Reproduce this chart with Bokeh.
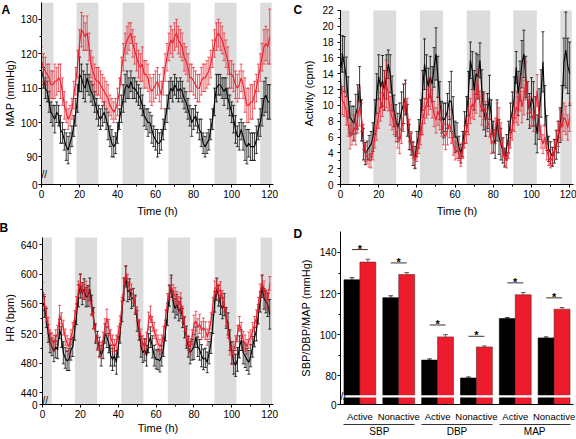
from bokeh.plotting import figure
from bokeh.layouts import column, row
from bokeh.models import Range1d, FixedTicker, LinearAxis
from bokeh.core.properties import value
from bokeh.embed import file_html
from bokeh.resources import INLINE

FONT = "Liberation Sans"
RED = "#e8202d"
BAND = "#dcdcdc"

HOURS = list(range(121))

# ---------------- Panel A: MAP (mmHg) ----------------
A_black = [115,113,110,109,106,103,102,101,103,102,
           98,97,95,93,92,94,96,99,103,107,
           114,113,111,110,113,111,109,108,106,104,
           102,101,102,103,101,99,96,94,93,94,
           97,101,104,107,110,111,110,112,110,110,
           109,108,107,105,102,101,100,100,98,96,
           95,94,94,95,98,101,104,108,110,109,
           111,110,109,110,109,107,106,104,102,100,
           101,102,100,98,97,94,93,94,95,98,
           101,106,110,111,111,110,109,110,107,105,
           103,101,98,96,96,98,96,94,93,94,
           93,93,93,95,98,100,103,107,108,106,
           106]
A_black_err = [4,3,3,3,3,3,3,4,3,3,
               4,3,3,4,4,3,3,3,4,4,
               5,4,4,4,4,3,3,3,3,3,
               3,3,3,3,3,4,3,4,3,3,
               3,3,4,4,4,4,3,3,3,3,
               3,3,3,3,3,3,4,3,4,3,
               3,4,3,3,3,3,4,4,3,3,
               3,3,3,3,3,3,3,3,3,4,
               3,3,3,3,4,3,3,3,3,3,
               3,4,4,3,3,3,4,3,3,3,
               3,4,4,3,4,3,4,5,5,4,
               4,4,4,4,3,4,4,5,5,5,
               5]
A_red = [118,116,115,114,113,111,111,112,112,113,
         112,109,105,103,101,102,104,108,112,117,
         123,127,126,125,126,122,117,115,113,112,
         112,111,110,109,108,107,105,104,103,104,
         106,109,115,119,122,124,125,126,123,121,
         119,117,116,117,114,114,113,110,109,110,
         111,112,110,108,112,116,119,122,124,123,
         125,126,124,123,122,119,118,116,113,113,
         112,111,110,110,112,113,113,114,115,117,
         120,123,125,126,125,124,122,120,118,114,
         114,113,111,110,111,113,111,108,105,105,
         106,106,108,110,113,116,119,122,123,122,
         125]
A_red_err = [4,4,4,3,4,4,4,5,4,4,
             5,4,4,3,3,3,3,4,4,4,
             4,5,5,4,5,4,4,4,4,4,
             4,4,4,4,4,4,3,3,3,3,
             4,4,4,4,4,4,4,3,4,4,
             4,4,4,5,4,4,4,4,4,4,
             4,4,4,4,4,4,4,4,4,4,
             4,4,4,4,4,4,4,4,4,4,
             4,4,4,4,4,4,4,4,4,4,
             4,4,4,4,4,4,4,4,4,4,
             4,4,4,4,4,4,4,5,5,5,
             5,5,4,4,4,4,4,5,5,5,
             8]
A_band_start = [0, 18.4, 42.6, 66.8, 91.0, 115.0]
A_band_end = [6.3, 29.9, 54.1, 78.4, 102.6, 121.0]

# ---------------- Panel B: HR (bpm) ----------------
B_black = [563,556,541,520,507,502,496,502,498,526,
           515,494,487,483,485,498,502,524,546,571,
           584,574,580,569,571,580,559,541,520,511,
           502,490,498,520,515,507,490,485,490,481,
           502,520,550,580,597,576,580,567,569,559,
           537,524,502,494,498,490,507,515,502,490,
           485,485,483,490,502,524,546,571,584,563,
           554,559,550,554,541,528,515,502,494,498,
           502,515,502,498,490,485,487,481,494,507,
           533,563,580,571,559,554,559,541,533,511,
           494,481,477,485,502,511,494,490,485,481,
           490,502,515,524,546,563,584,567,563,559,
           546]
B_black_err = [12,14,13,12,13,12,14,15,12,13,
               14,15,14,13,15,14,13,13,14,15,
               16,15,14,13,14,15,13,14,13,12,
               13,14,12,13,14,13,14,15,14,16,
               14,13,14,15,14,13,14,13,12,13,
               14,13,14,13,15,14,13,14,15,14,
               13,14,15,14,13,14,15,14,15,14,
               13,14,13,14,13,14,15,14,15,14,
               17,14,13,14,15,14,13,14,15,14,
               13,14,15,14,13,14,15,14,15,14,
               15,16,15,16,15,14,15,16,15,16,
               15,14,13,14,13,14,15,14,15,16,
               20]
B_red = [580,563,546,531,515,511,507,515,520,546,
         537,528,515,507,502,515,524,541,559,580,
         589,578,576,580,574,567,554,537,520,507,
         498,498,511,528,541,528,515,507,502,507,
         520,533,559,584,602,589,580,576,571,559,
         546,528,515,507,502,511,537,546,533,524,
         515,507,502,507,520,541,563,576,584,576,
         571,567,559,563,546,533,515,507,502,515,
         533,537,528,533,524,528,524,515,524,537,
         559,580,584,576,580,567,559,541,524,502,
         490,498,507,520,533,524,511,507,502,511,
         515,524,533,541,559,576,589,580,567,563,
         588]
B_red_err = [9,10,10,11,10,10,11,10,11,12,
             11,10,11,10,11,10,11,10,11,11,
             12,11,10,11,10,11,10,11,10,10,
             11,10,11,12,12,11,10,11,10,11,
             10,11,10,11,10,11,10,11,10,11,
             10,11,11,10,10,11,12,11,10,11,
             10,11,10,11,10,11,11,10,11,10,
             11,10,11,12,11,10,11,10,11,10,
             12,13,12,13,12,13,12,11,12,11,
             10,11,10,11,10,11,10,11,10,11,
             12,11,10,11,10,11,12,11,10,11,
             10,11,10,11,10,11,10,11,12,11,
             9]
B_band_start = [0, 17.1, 41.6, 66.2, 90.8, 115.2]
B_band_end = [4.9, 28.8, 53.3, 77.9, 102.4, 121.3]

# ---------------- Panel C: Activity (cpm) ----------------
C_black = [14.0,16.5,15.2,13.6,11.0,8.5,8.1,7.7,8.9,9.8,
           12.7,8.1,5.1,3.9,4.3,4.7,5.1,6.0,8.5,11.5,
           13.6,12.3,13.1,11.9,13.6,15.2,14.0,11.5,9.3,8.1,
           7.2,8.1,9.3,10.2,11.0,8.1,6.0,5.1,3.9,3.4,
           5.1,6.4,8.5,11.9,15.2,13.6,12.3,13.6,12.7,14.8,
           16.5,13.6,10.6,8.5,8.1,8.5,9.3,10.6,10.5,8.5,
           6.0,6.0,4.7,3.9,5.1,7.2,8.9,11.5,15.7,14.4,
           11.9,14.0,13.6,15.7,11.9,9.3,8.1,9.3,11.0,8.5,
           6.0,5.1,8.1,6.0,5.1,4.3,3.4,4.7,6.0,8.1,
           9.3,11.0,14.8,11.5,13.1,15.2,16.5,13.6,10.6,9.3,
           11.0,10.2,8.1,6.4,8.9,11.5,15.5,10.0,6.5,4.5,
           4.0,3.5,4.2,5.0,6.0,7.5,10.0,15.5,17.0,15.0,
           14.0]
C_black_err = [2.5,2.3,3.5,2.5,2.6,2.0,1.8,2.2,2.5,2.8,
               2.2,2.6,2.0,1.4,1.2,1.5,1.6,1.8,2.2,2.5,
               2.8,2.6,3.2,2.5,2.8,1.8,2.4,2.2,2.0,2.0,
               1.8,2.2,2.4,2.5,2.2,2.0,1.6,1.4,1.5,1.4,
               1.6,1.8,2.2,2.5,3.2,2.8,2.4,2.6,2.2,2.5,
               3.3,2.6,2.4,2.0,2.2,1.8,2.2,2.4,3.8,2.6,
               2.0,1.8,1.4,1.2,1.6,2.0,2.2,2.8,2.3,2.4,
               2.5,2.6,2.8,2.2,2.6,2.4,2.0,2.2,2.8,2.2,
               2.0,1.8,2.6,2.2,2.0,1.6,1.2,1.6,2.0,2.2,
               2.4,2.6,2.0,2.8,2.5,3.0,3.0,2.6,2.4,2.2,
               2.5,2.8,3.0,2.4,3.2,3.0,3.8,2.5,2.2,1.6,
               1.4,1.2,1.5,1.8,2.0,2.2,2.5,3.0,4.8,3.5,
               4.0]
C_red = [13.6,10.6,10.2,9.3,7.7,6.0,6.4,7.2,6.8,8.5,
         9.8,8.5,6.0,3.9,3.4,3.0,3.0,4.3,6.0,7.2,
         8.9,9.8,10.6,11.9,12.7,11.5,9.3,8.5,7.7,6.8,
         6.0,5.5,6.8,8.5,11.0,9.3,6.8,5.5,4.3,3.0,
         3.9,5.1,6.4,8.1,9.3,10.2,10.6,11.5,10.2,8.9,
         8.1,9.3,8.5,7.7,6.4,6.0,6.8,7.7,6.8,5.1,
         4.3,4.3,3.9,3.2,4.3,6.0,6.8,8.1,9.3,10.2,
         9.8,11.0,12.7,10.2,9.3,9.8,8.9,8.1,7.2,5.1,
         5.5,6.8,8.5,8.1,6.4,4.7,3.4,3.0,4.3,6.0,
         7.2,8.5,9.8,9.3,11.5,9.8,11.0,13.1,11.0,9.3,
         8.9,8.1,9.3,11.9,8.5,6.0,5.1,6.0,4.3,3.4,
         3.0,3.4,4.3,5.5,6.4,7.7,7.2,8.5,8.1,7.2,
         8.5]
C_red_err = [2.0,1.8,1.6,1.8,1.6,1.5,1.4,1.6,1.8,2.0,
             2.4,1.8,1.6,1.0,0.8,0.8,0.9,1.2,1.4,1.6,
             1.8,1.8,2.0,2.5,3.0,2.2,1.8,1.6,1.4,1.4,
             1.4,1.6,1.6,1.8,1.8,1.6,1.4,1.2,1.0,0.9,
             1.0,1.2,1.4,1.8,1.6,1.8,1.8,2.0,1.8,1.6,
             1.6,1.8,1.6,1.6,1.4,1.6,1.8,1.8,1.6,1.4,
             1.2,1.0,0.9,0.9,1.0,1.4,1.6,1.8,1.6,1.8,
             1.6,2.0,1.8,1.6,1.8,1.6,1.6,1.4,1.2,1.2,
             1.4,1.6,1.8,1.6,1.4,1.2,1.0,0.9,1.0,1.4,
             1.6,1.8,2.0,1.8,2.2,2.0,2.2,2.4,2.0,1.8,
             1.6,1.4,1.8,2.0,1.8,1.4,1.2,1.4,1.2,1.0,
             0.9,1.0,1.2,1.4,1.6,1.8,1.6,1.8,1.8,1.6,
             1.8]
C_band_start = [0, 17.2, 41.6, 66.1, 90.5, 115.1]
C_band_end = [4.7, 29.2, 53.7, 78.4, 102.8, 121.1]

# ---------------- Panel D: SBP/DBP/MAP (mmHg) ----------------
D_groups = ["SBP", "DBP", "MAP"]
D_phases = ["Active", "Nonactive"]
D_black = [126.7, 118.0, 87.6, 78.9, 107.8, 98.4]
D_black_err = [1.0, 0.9, 0.6, 0.5, 0.5, 0.5]
D_red = [135.3, 129.3, 98.9, 94.0, 119.4, 112.4]
D_red_err = [1.4, 0.9, 1.1, 0.5, 1.1, 0.8]

for arr in (A_black, A_black_err, A_red, A_red_err, B_black, B_black_err, B_red, B_red_err,
            C_black, C_black_err, C_red, C_red_err):
    assert len(arr) == 121, len(arr)

CAP = 0.8


def style_axis(ax, tick_font="10px", label_font="11px", standoff=2, label_standoff=2):
    ax.axis_line_width = 1
    ax.axis_line_color = "black"
    ax.major_tick_in = 0
    ax.major_tick_out = 3
    ax.minor_tick_in = 0
    ax.minor_tick_out = 2
    ax.major_tick_line_color = "black"
    ax.minor_tick_line_color = "black"
    ax.major_label_text_font = FONT
    ax.major_label_text_font_size = tick_font
    ax.major_label_text_color = "black"
    ax.major_label_standoff = standoff
    ax.axis_label_text_font = FONT
    ax.axis_label_text_font_size = label_font
    ax.axis_label_text_font_style = "normal"
    ax.axis_label_text_color = "black"
    ax.axis_label_standoff = label_standoff


def set_letter(p, letter, dx, drop):
    t = p.title
    t.text = letter
    t.align = "left"
    t.text_font = FONT
    t.text_font_style = "bold"
    t.text_font_size = "12px"
    t.text_color = "black"
    t.offset = dx
    try:
        t.standoff = -drop
    except Exception:
        t.standoff = 0


def ts_panel(width, height, borders, yr, ybounds, yticks, yminor, yover, ylabel, bstart, bend,
             blk, blk_e, red, red_e, break_y, ystand, xlab_stand):
    p = figure(width=width, height=height, x_range=Range1d(0, 122), y_range=Range1d(*yr),
               output_backend="svg", toolbar_location=None,
               min_border_left=borders[0], min_border_right=borders[1],
               min_border_top=borders[2], min_border_bottom=borders[3])
    p.outline_line_color = None
    p.grid.visible = False
    p.quad(left=bstart, right=bend, bottom=ybounds[0], top=ybounds[1], fill_color=BAND, line_color=None)
    for vals, errs, col, alpha in ((blk, blk_e, "black", 0.85), (red, red_e, RED, 0.8)):
        lo = [v - e for v, e in zip(vals, errs)]
        hi = [v + e for v, e in zip(vals, errs)]
        left = [h - CAP for h in HOURS]
        right = [h + CAP for h in HOURS]
        p.segment(x0=HOURS, y0=lo, x1=HOURS, y1=hi, line_color=col, line_alpha=alpha, line_width=0.9)
        p.segment(x0=left, y0=hi, x1=right, y1=hi, line_color=col, line_alpha=alpha, line_width=0.9)
        p.segment(x0=left, y0=lo, x1=right, y1=lo, line_color=col, line_alpha=alpha, line_width=0.9)
        p.line(HOURS, vals, line_color=col, line_width=1.1)
    xa = p.xaxis[0]
    xa.ticker = FixedTicker(ticks=[0, 20, 40, 60, 80, 100, 120], minor_ticks=list(range(0, 121, 10)))
    xa.axis_label = "Time (h)"
    style_axis(xa, standoff=2, label_standoff=xlab_stand)
    ya = p.yaxis[0]
    ya.ticker = FixedTicker(ticks=yticks, minor_ticks=yminor)
    ya.major_label_overrides = yover
    ya.bounds = ybounds
    ya.axis_label = ylabel
    style_axis(ya, standoff=ystand[0], label_standoff=ystand[1])
    if break_y is not None:
        p.text(x=[0], y=[break_y], text=["//"], text_font=value(FONT), text_font_size="10px",
               text_align="left", text_baseline="middle", text_color="black")
    return p


# top row (height 221): frames share top border 2 and bottom border 37
pA = ts_panel(290, 221, (37, 17, 2, 37), (82, 134.9), (82, 134.9), [82, 90, 100, 110, 120, 130],
              list(range(90, 131, 5)), {82: "0"}, "MAP (mmHg)",
              A_band_start, A_band_end, A_black, A_black_err, A_red, A_red_err, 85.0, (1, 2), 4)
pC = ts_panel(286, 221, (50, 3, 2, 37), (0, 23.0), (0, 22), list(range(0, 23, 2)),
              list(range(0, 23)), {}, "Activity (cpm)",
              C_band_start, C_band_end, C_black, C_black_err, C_red, C_red_err, None, (4, 4), 4)
# bottom row (height 218): frames share top border 9 and bottom border 30
pB = ts_panel(290, 218, (40, 17, 9, 30), (424, 658), (424, 650), [424, 440, 480, 520, 560, 600, 640],
              list(range(440, 641, 20)), {424: "0"}, "HR (bpm)",
              B_band_start, B_band_end, B_black, B_black_err, B_red, B_red_err, 430.0, (2, 2), 1)

# ---------------- Panel D figure ----------------
D_BASE = 66
pD = figure(width=286, height=218, x_range=Range1d(0, 12), y_range=Range1d(D_BASE, 150.2),
            output_backend="svg", toolbar_location=None,
            min_border_left=50, min_border_right=3, min_border_top=9, min_border_bottom=30)
pD.outline_line_color = None
pD.grid.visible = False
n = len(D_black)
xc = [2 * i + 1 for i in range(n)]
xb = [x - 0.41 for x in xc]
xr = [x + 0.41 for x in xc]
pD.vbar(x=xb, top=D_black, bottom=D_BASE, width=0.82, fill_color="black", line_color="black", line_width=0.6)
pD.vbar(x=xr, top=D_red, bottom=D_BASE, width=0.82, fill_color="#ec1c2c", line_color="#5a2a2a", line_width=0.6)
for xs, vals, errs, col in ((xb, D_black, D_black_err, "black"), (xr, D_red, D_red_err, "#5a2a2a")):
    hi = [v + e for v, e in zip(vals, errs)]
    pD.segment(x0=xs, y0=vals, x1=xs, y1=hi, line_color=col, line_width=0.8)
    pD.segment(x0=[x - 0.12 for x in xs], y0=hi, x1=[x + 0.12 for x in xs], y1=hi,
               line_color=col, line_width=0.8)
sig_y = [v + e + 4.7 for v, e in zip(D_red, D_red_err)]
pD.segment(x0=xb, y0=sig_y, x1=xr, y1=sig_y, line_color="black", line_width=0.8)
pD.text(x=xc, y=[s + 0.4 for s in sig_y], text=["*"] * n, text_font=value(FONT),
        text_font_size="11px", text_font_style="bold", text_align="center",
        text_baseline="alphabetic", text_color="black")
pD.quad(left=0, right=12, bottom=69.4, top=70.5, fill_color="white", line_color=None)
pD.text(x=[0], y=[69.95], text=["//"], text_font=value(FONT), text_font_size="10px",
        text_align="left", text_baseline="middle", text_color="black")

xa = pD.xaxis[0]
xa.ticker = FixedTicker(ticks=xc, minor_ticks=[])
xa.major_label_overrides = {x: D_phases[i % 2] for i, x in enumerate(xc)}
style_axis(xa, tick_font="9.5px", standoff=6)
xa.major_tick_out = 0
xa.minor_tick_out = 0

ga = LinearAxis(ticker=FixedTicker(ticks=[2, 6, 10], minor_ticks=[]),
                major_label_overrides={2: D_groups[0], 6: D_groups[1], 10: D_groups[2]})
style_axis(ga, tick_font="10px", standoff=1)
ga.major_tick_out = 0
ga.minor_tick_out = 0
ga.axis_line_width = 0.8
ga.axis_line_dash = "71 7"
ga.axis_line_dash_offset = 75
pD.add_layout(ga, "below")

ya = pD.yaxis[0]
ya.ticker = FixedTicker(ticks=[D_BASE, 80, 100, 120, 140], minor_ticks=list(range(80, 141, 10)))
ya.major_label_overrides = {D_BASE: "0"}
ya.bounds = (D_BASE, 150.2)
ya.axis_label = "SBP/DBP/MAP (mmHg)"
style_axis(ya, tick_font="10px", standoff=1, label_standoff=5)

set_letter(pA, "A", -40, 28)
set_letter(pC, "C", -47, 28)
set_letter(pB, "B", -43, 6)
set_letter(pD, "D", -47, 18)

layout = column(row(pA, pC), row(pB, pD))
open("out.html", "w").write(file_html(layout, INLINE))
